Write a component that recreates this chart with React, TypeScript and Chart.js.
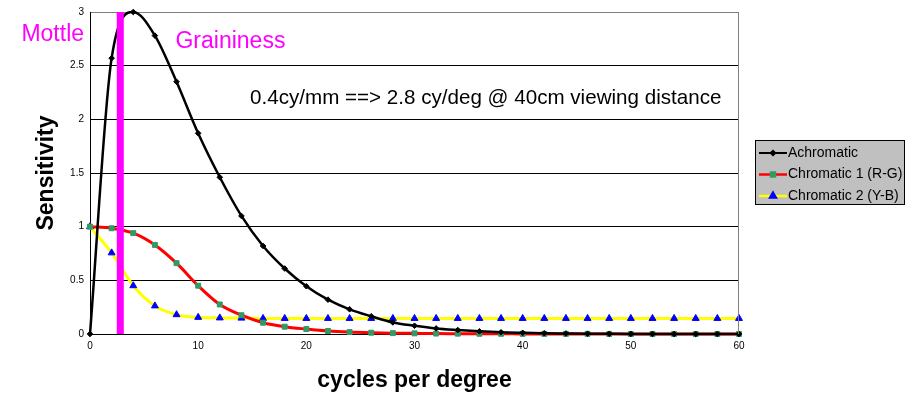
import React, { useEffect, useRef } from "react";
import { Chart, registerables } from "chart.js";
import { drawPoint } from "chart.js/helpers";

Chart.register(...registerables);

const cpd = [0, 2, 4, 6, 8, 10, 12, 14, 16, 18, 20, 22, 24, 26, 28, 30, 32, 34, 36, 38, 40, 42, 44, 46, 48, 50, 52, 54, 56, 58, 60];
const achromatic = [0, 2.57, 3.0, 2.78, 2.35, 1.87, 1.46, 1.1, 0.82, 0.61, 0.445, 0.32, 0.23, 0.165, 0.108, 0.077, 0.052, 0.037, 0.025, 0.016, 0.011, 0.007, 0.005, 0.003, 0.002, 0.001, 0.001, 0, 0, 0, 0];
const chromaticRG = [1.0, 0.985, 0.94, 0.83, 0.66, 0.45, 0.275, 0.175, 0.105, 0.068, 0.046, 0.028, 0.018, 0.012, 0.008, 0.006, 0.004, 0.003, 0.002, 0.002, 0.001, 0.001, 0.001, 0.001, 0, 0, 0, 0, 0, 0, 0];
const chromaticYB = [1.0, 0.756, 0.45, 0.262, 0.18, 0.155, 0.15, 0.148, 0.145, 0.145, 0.145, 0.145, 0.145, 0.145, 0.145, 0.145, 0.145, 0.145, 0.145, 0.145, 0.145, 0.145, 0.145, 0.145, 0.145, 0.145, 0.145, 0.145, 0.145, 0.145, 0.145];
const seriesLabels = ["Achromatic", "Chromatic 1 (R-G)", "Chromatic 2 (Y-B)"];
const mottleBoundary = [2.8, 2.8];
const mottleSpan = [0, 3];
const xTitle = "cycles per degree";
const yTitle = "Sensitivity";
const noteText = "0.4cy/mm ==> 2.8 cy/deg @ 40cm viewing distance";

const FONT = "'Liberation Sans', Arial, sans-serif";

const overlayPlugin = {
  id: "overlay",
  afterDraw(chart: any) {
    const { ctx, chartArea, scales } = chart;
    const xs = scales.x;
    const ys = scales.y;
    ctx.save();
    // right border of plot
    ctx.strokeStyle = "#808080";
    ctx.lineWidth = 1;
    ctx.beginPath();
    ctx.moveTo(chartArea.right - 0.5, chartArea.top);
    ctx.lineTo(chartArea.right - 0.5, chartArea.bottom);
    ctx.stroke();

    // axis titles
    ctx.fillStyle = "#000";
    ctx.font = `bold 23px ${FONT}`;
    ctx.textAlign = "center";
    ctx.textBaseline = "middle";
    ctx.fillText(xTitle, (chartArea.left + chartArea.right) / 2, chartArea.bottom + 47);
    ctx.save();
    ctx.translate(47, (chartArea.top + chartArea.bottom) / 2);
    ctx.rotate(-Math.PI / 2);
    ctx.fillText(yTitle, 0, 0);
    ctx.restore();

    // annotations
    ctx.fillStyle = "#ff00ff";
    ctx.font = `23px ${FONT}`;
    ctx.textAlign = "right";
    ctx.fillText("Mottle", xs.getPixelForValue(-0.55), ys.getPixelForValue(2.79));
    ctx.textAlign = "left";
    ctx.fillText("Graininess", xs.getPixelForValue(7.9), ys.getPixelForValue(2.72));
    ctx.fillStyle = "#000";
    ctx.font = `20.6px ${FONT}`;
    ctx.fillText(noteText, xs.getPixelForValue(14.8), ys.getPixelForValue(2.2));

    // legend
    const bx = chartArea.right + 16;
    const by = 140;
    const bw = 150;
    const bh = 65;
    ctx.fillStyle = "#c0c0c0";
    ctx.fillRect(bx, by, bw, bh);
    ctx.strokeStyle = "#000";
    ctx.lineWidth = 1;
    ctx.strokeRect(bx + 0.5, by + 0.5, bw - 1, bh - 1);
    ctx.font = `14px ${FONT}`;
    ctx.textAlign = "left";
    ctx.textBaseline = "middle";
    const legendRadius = [2.2, 2.8, 3.2];
    for (let i = 0; i < 3; i++) {
      const ds = chart.data.datasets[i];
      const y = by + 13 + i * 21.5;
      ctx.strokeStyle = ds.borderColor;
      ctx.lineWidth = ds.borderWidth - 0.5;
      ctx.beginPath();
      ctx.moveTo(bx + 4, y);
      ctx.lineTo(bx + 32, y);
      ctx.stroke();
      ctx.fillStyle = ds.pointBackgroundColor;
      ctx.strokeStyle = ds.pointBorderColor;
      drawPoint(ctx, { pointStyle: ds.pointStyle, radius: legendRadius[i], rotation: 0, borderWidth: 1 }, bx + 18, y);
      ctx.fillStyle = "#000";
      ctx.fillText(ds.label, bx + 33, y);
    }
    ctx.restore();
  },
};

export default function App() {
  const ref = useRef<HTMLCanvasElement>(null);
  useEffect(() => {
    document.body.style.margin = "0";
    const toXY = (vals: number[]) => cpd.map((x, i) => ({ x, y: vals[i] }));
    const chart = new Chart(ref.current as HTMLCanvasElement, {
      type: "line",
      data: {
        datasets: [
          {
            label: seriesLabels[0],
            data: toXY(achromatic),
            borderColor: "#000000",
            borderWidth: 2.5,
            pointStyle: "rectRot",
            pointRadius: 2.8,
            pointBackgroundColor: "#000000",
            pointBorderColor: "#000000",
            pointBorderWidth: 1,
            cubicInterpolationMode: "monotone",
            clip: 10,
          },
          {
            label: seriesLabels[1],
            data: toXY(chromaticRG),
            borderColor: "#ff0000",
            borderWidth: 3,
            pointStyle: "rect",
            pointRadius: 3.5,
            pointBackgroundColor: "#339966",
            pointBorderColor: "#339966",
            pointBorderWidth: 1,
            cubicInterpolationMode: "monotone",
            clip: 10,
          },
          {
            label: seriesLabels[2],
            data: toXY(chromaticYB),
            borderColor: "#ffff00",
            borderWidth: 3,
            pointStyle: "triangle",
            pointRadius: 4,
            pointBackgroundColor: "#0000ff",
            pointBorderColor: "#0000ff",
            pointBorderWidth: 1,
            cubicInterpolationMode: "monotone",
            clip: 10,
          },
          {
            label: "",
            data: mottleBoundary.map((x, i) => ({ x, y: mottleSpan[i] })),
            borderColor: "#ff00ff",
            borderWidth: 7,
            borderCapStyle: "butt",
            pointRadius: 0,
            order: -1,
            clip: 10,
          },
        ] as any,
      },
      options: {
        animation: false,
        responsive: true,
        maintainAspectRatio: false,
        layout: { padding: { left: 0, right: 172, top: 11, bottom: 0 } },
        plugins: { legend: { display: false }, tooltip: { enabled: false } },
        scales: {
          x: {
            type: "linear",
            min: 0,
            max: 60,
            afterFit: (s: any) => {
              s.height = 59;
            },
            grid: { display: false, drawTicks: false },
            border: { display: true, color: "#000", width: 1 },
            ticks: { stepSize: 10, padding: 6, color: "#000", font: { family: FONT, size: 10 } },
          },
          y: {
            min: 0,
            max: 3,
            afterFit: (s: any) => {
              s.width = 90;
            },
            grid: {
              drawTicks: false,
              color: (c: any) => (c.tick && c.tick.value === 3 ? "#808080" : "#000000"),
            },
            border: { display: true, color: "#000", width: 1 },
            ticks: {
              stepSize: 0.5,
              padding: 6,
              color: "#000",
              font: { family: FONT, size: 10 },
              callback: (v: any) => String(v),
            },
          },
        },
      },
      plugins: [overlayPlugin],
    });
    return () => chart.destroy();
  }, []);
  return (
    <div style={{ width: 911, height: 393, position: "relative" }}>
      <canvas ref={ref} />
    </div>
  );
}
